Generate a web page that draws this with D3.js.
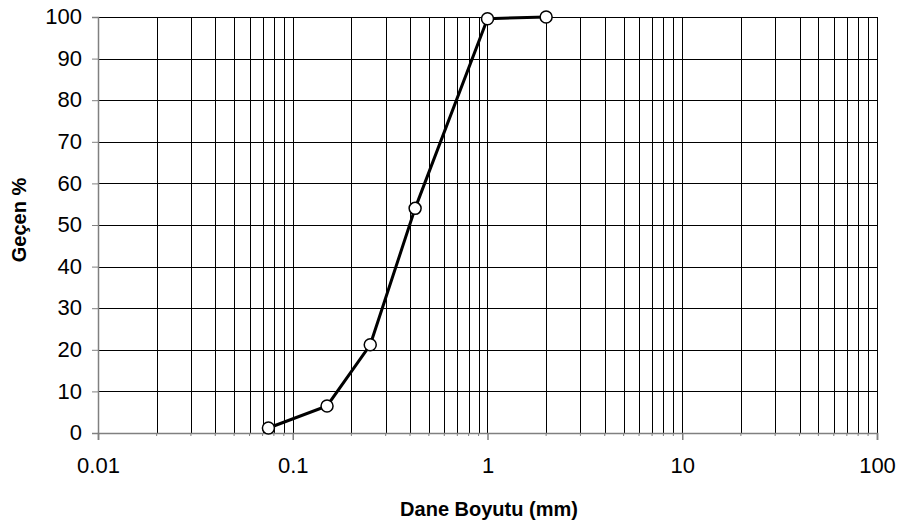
<!DOCTYPE html>
<meta charset="utf-8">
<style>
body { margin: 0; background: #fff; }
.tick text { font: 22px "Liberation Sans", Arial, sans-serif; fill: #000; }
.title { font: bold 20px "Liberation Sans", Arial, sans-serif; fill: #000; }
</style>
<svg width="898" height="525"></svg>
<script src="https://d3js.org/d3.v7.min.js"></script>
<script>

// sieve analysis data
var sizes = [0.075, 0.15, 0.25, 0.425, 1, 2];
var passing = [1.2, 6.5, 21.2, 54, 99.6, 100];
var xTickLabels = ["0.01", "0.1", "1", "10", "100"];
var yTicks = [0, 10, 20, 30, 40, 50, 60, 70, 80, 90, 100];

var svg = d3.select("svg"),
    margin = {top: 17, right: 21, bottom: 92, left: 98},
    width = +svg.attr("width") - margin.left - margin.right,
    height = +svg.attr("height") - margin.top - margin.bottom;

var x = d3.scaleLog().domain([0.01, 100]).range([0, width]);
var y = d3.scaleLinear().domain([0, 100]).range([height, 0]);

var g = svg.append("g")
    .attr("transform", "translate(" + margin.left + "," + margin.top + ")");

// vertical grid: 2..9 of each decade
var minor = [];
[0.01, 0.1, 1, 10].forEach(function(d) {
  for (var k = 2; k <= 9; k++) minor.push(d * k);
});
var majors = xTickLabels.map(Number);

g.append("g").selectAll("line")
  .data(minor.concat(majors.slice(1)))
  .enter().append("line")
    .attr("x1", function(d) { return Math.round(x(d)) + 0.5; })
    .attr("x2", function(d) { return Math.round(x(d)) + 0.5; })
    .attr("y1", 0).attr("y2", height)
    .attr("stroke", "#000").attr("stroke-width", 1);

// horizontal grid
g.append("g").selectAll("line")
  .data(yTicks.slice(1))
  .enter().append("line")
    .attr("x1", 0).attr("x2", width)
    .attr("y1", function(d) { return Math.round(y(d)) + 0.5; })
    .attr("y2", function(d) { return Math.round(y(d)) + 0.5; })
    .attr("stroke", "#000").attr("stroke-width", 1);

// y axis
var yAxis = g.append("g")
    .call(d3.axisLeft(y).tickValues(yTicks).tickSize(6).tickPadding(10));
yAxis.select(".domain").attr("stroke", "#808080").attr("stroke-width", 1.5);
yAxis.selectAll(".tick line").attr("stroke", "#808080");
yAxis.selectAll(".tick text").attr("dy", "0.3em");

// x axis
var xAxis = g.append("g")
    .attr("transform", "translate(0," + height + ")")
    .call(d3.axisBottom(x).tickValues(majors)
      .tickFormat(function(d, i) { return xTickLabels[i]; })
      .tickSize(7).tickPadding(17));
xAxis.select(".domain").attr("stroke", "#808080").attr("stroke-width", 1.5);
xAxis.selectAll(".tick line").attr("stroke", "#808080").attr("stroke-width", 1.5);

// minor tick marks below the axis line
g.append("g").selectAll("line")
  .data(minor)
  .enter().append("line")
    .attr("x1", function(d) { return x(d); })
    .attr("x2", function(d) { return x(d); })
    .attr("y1", height).attr("y2", height + 3)
    .attr("stroke", "#808080");

var pts = sizes.map(function(d, i) { return [d, passing[i]]; });

g.append("path")
    .datum(pts)
    .attr("fill", "none")
    .attr("stroke", "#000")
    .attr("stroke-width", 3)
    .attr("d", d3.line()
      .x(function(d) { return x(d[0]); })
      .y(function(d) { return y(d[1]); }));

g.selectAll("circle")
  .data(pts)
  .enter().append("circle")
    .attr("cx", function(d) { return x(d[0]); })
    .attr("cy", function(d) { return y(d[1]); })
    .attr("r", 6)
    .attr("fill", "#fff")
    .attr("stroke", "#000")
    .attr("stroke-width", 1.5);

svg.append("text")
    .attr("class", "title")
    .attr("text-anchor", "middle")
    .attr("x", 489)
    .attr("y", 516)
    .text("Dane Boyutu (mm)");

svg.append("text")
    .attr("class", "title")
    .attr("text-anchor", "middle")
    .attr("transform", "translate(26,220) rotate(-90)")
    .text("Geçen %");

</script>
